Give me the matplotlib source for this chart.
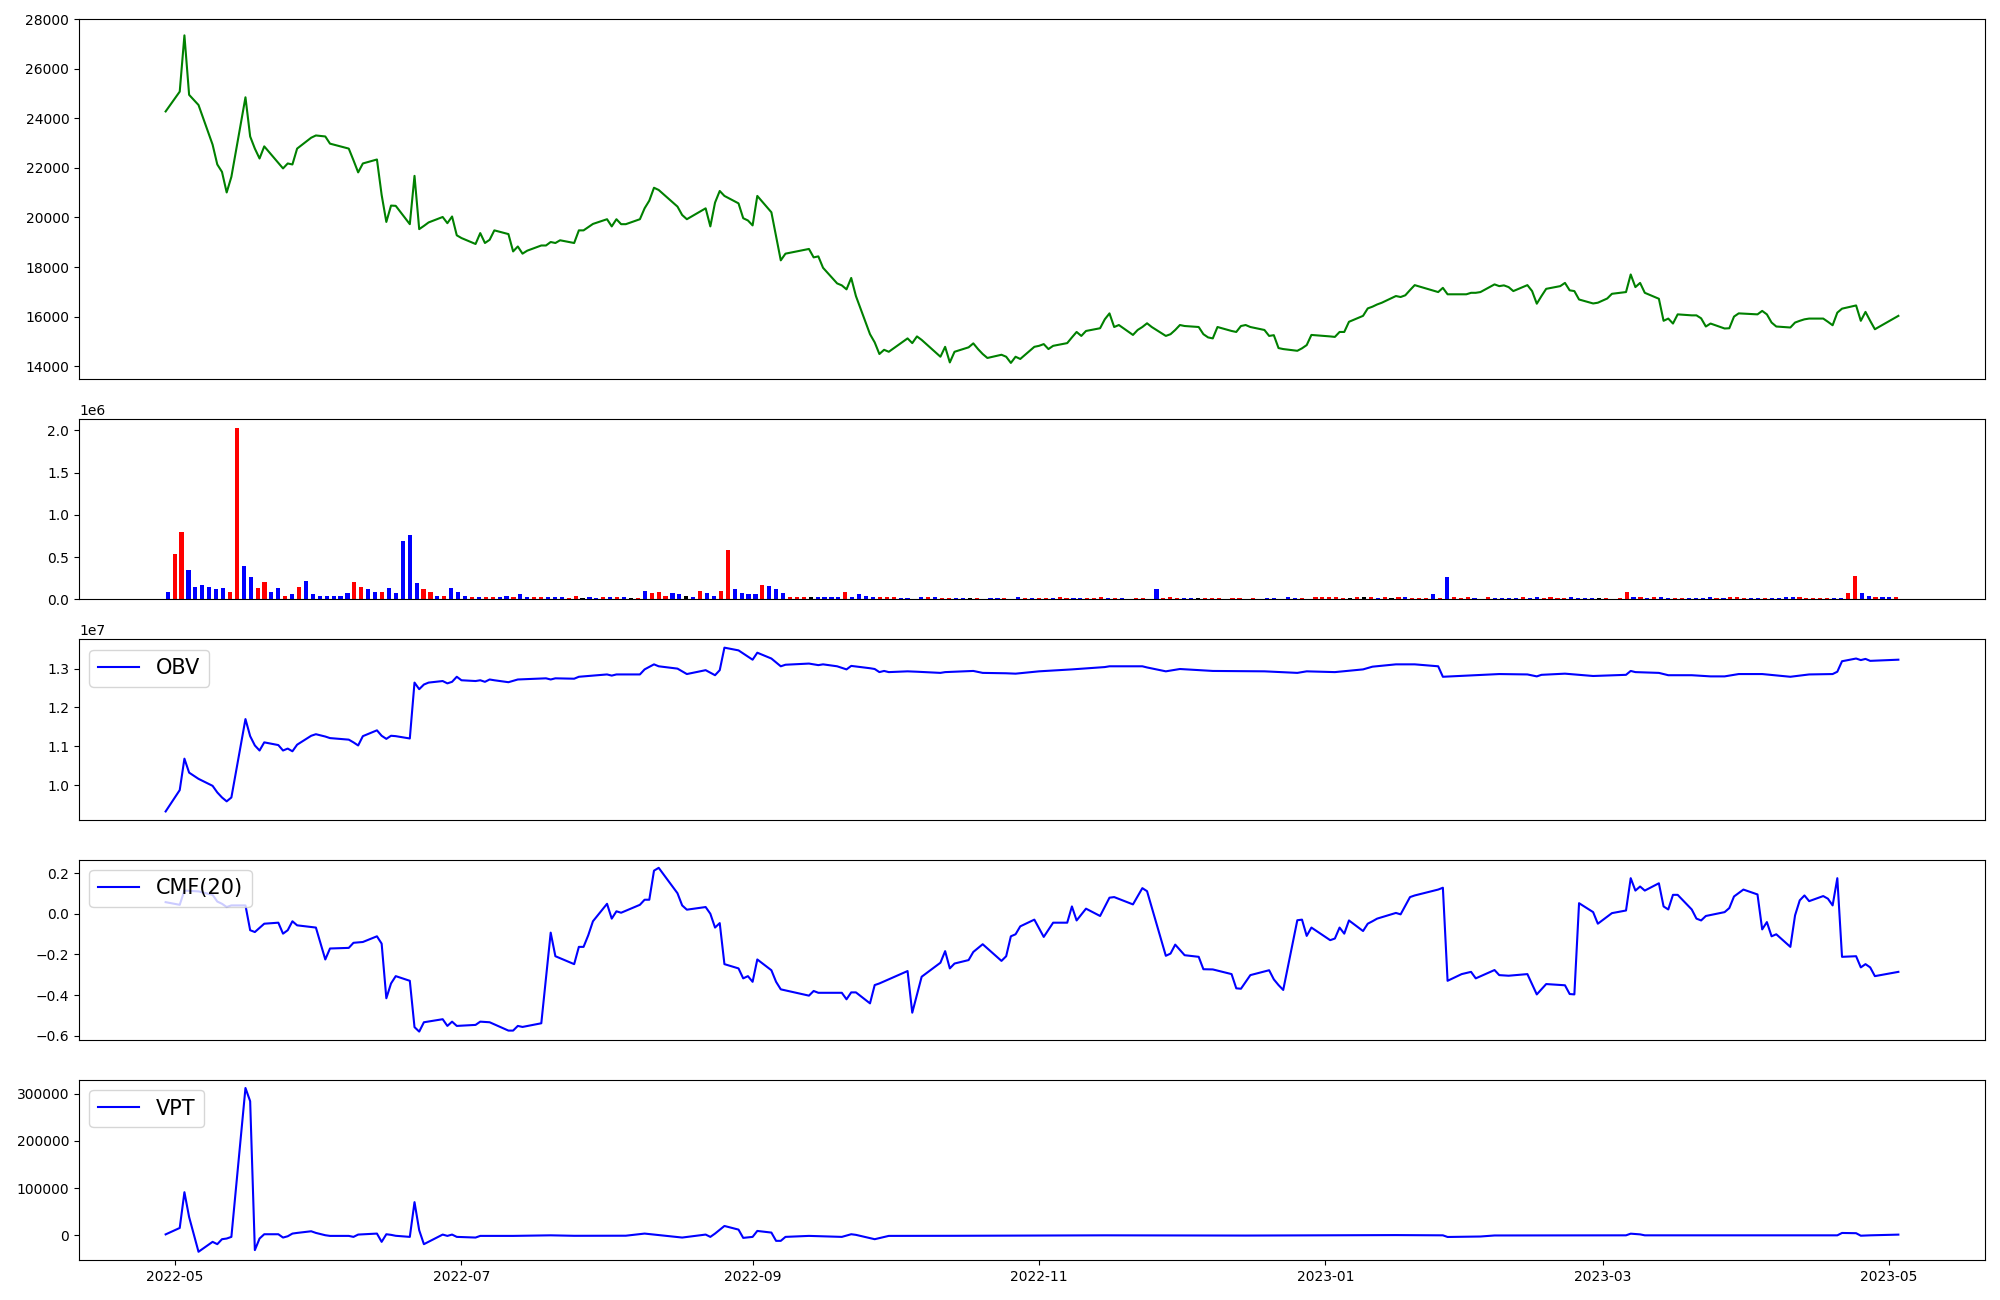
import numpy as np
import pandas as pd
import matplotlib
matplotlib.use("Agg")
import matplotlib.pyplot as plt
import matplotlib.dates as mdates

# ---------------- data ----------------
holidays = ["2022-05-05", "2022-06-01", "2022-06-06", "2022-08-15", "2022-09-09",
            "2022-09-12", "2022-10-03", "2022-10-10", "2022-12-30", "2023-01-23",
            "2023-01-24", "2023-03-01", "2023-05-01"]
trade_days = pd.bdate_range("2022-04-29", "2023-05-03")
trade_days = trade_days[~trade_days.isin(pd.to_datetime(holidays))]

close = [
    24280,
    25080, 27350, 24950, 24540, 22940, 22140, 21840, 21010, 21640, 24850, 23270,
    22780, 22380, 22870, 22200, 21980, 22180, 22140, 22780, 23220, 23310,
    23270, 22980, 22780, 22310, 21820, 22180, 22340, 20910, 19820, 20480,
    20470, 19730, 21680, 19530, 19660, 19800, 20020, 19770, 20040, 19280,
    19170, 18930, 19370, 18970, 19100, 19480, 19330, 18630, 18830, 18540, 18660,
    18870, 18870, 19010, 18970, 19080, 18970, 19480, 19480, 19610, 19740,
    19930, 19640, 19930, 19730, 19730, 19930, 20370, 20680, 21200, 21110, 20440,
    20100, 19930, 20040, 20370, 19640, 20600, 21070, 20870, 20570, 19970, 19880,
    19680, 20870, 20210, 19240, 18270, 18540, 18730, 18390, 18430, 17970, 17340,
    17260, 17100, 17560, 16830, 15290, 14960, 14490, 14660, 14580,
    15120, 14930, 15200, 15060, 14380, 14780, 14150, 14580, 14760, 14920, 14690,
    14490, 14330, 14460, 14380, 14130, 14380, 14290, 14780,
    14820, 14890, 14690, 14820, 14930, 15160, 15380, 15220, 15420, 15530, 15890,
    16130, 15580, 15660, 15260, 15460, 15580, 15730, 15580, 15220, 15290, 15460,
    15660, 15620, 15580, 15290, 15160, 15120, 15580, 15420, 15380, 15620, 15660,
    15580, 15460, 15220, 15250, 14730, 14690, 14620, 14720, 14850, 15260,
    15200, 15180, 15380, 15380, 15790, 16030, 16330, 16400, 16490, 16560, 16830,
    16790, 16860, 17070, 17270, 16990, 17160, 16900, 16900, 16900,
    16960, 16960, 16990, 17300, 17230, 17260, 17190, 17030, 17270, 17030, 16520,
    16830, 17120, 17230, 17360, 17060, 17030, 16690, 16530, 16560,
    16730, 16920, 16990, 17700, 17190, 17360, 16960, 16720, 15830, 15920, 15720,
    16090, 16050, 16050, 15930, 15600, 15720, 15520, 15530, 16000, 16130, 16120,
    16090, 16230, 16090, 15760, 15600, 15560, 15760, 15830, 15890, 15920, 15920,
    15790, 15650, 16160, 16320, 16450, 15830, 16190, 15830, 15490,
    15920, 16030,
]

volume_m = [
    0.094, 0.54, 0.80, 0.354, 0.153, 0.177, 0.153, 0.118, 0.141, 0.094,
    2.03, 0.40, 0.27, 0.13, 0.21, 0.083, 0.13, 0.047, 0.059, 0.153,
    0.224, 0.059, 0.047, 0.047, 0.047, 0.047, 0.071, 0.212, 0.153, 0.118,
    0.094, 0.083, 0.13, 0.071, 0.695, 0.766, 0.189, 0.118, 0.083, 0.047,
    0.047, 0.13, 0.083, 0.047, 0.024, 0.024, 0.024, 0.024, 0.024, 0.047,
    0.035, 0.059, 0.035, 0.024, 0.024, 0.024, 0.035, 0.024, 0.012, 0.047,
    0.012, 0.024, 0.012, 0.035, 0.024, 0.035, 0.024, 0.012, 0.012, 0.106,
    0.071, 0.083, 0.047, 0.071, 0.059, 0.047, 0.024, 0.106, 0.071, 0.047,
    0.106, 0.59, 0.118, 0.071, 0.059, 0.059, 0.177, 0.165, 0.118, 0.071,
    0.035, 0.035, 0.035, 0.024, 0.035, 0.035, 0.035, 0.024, 0.094, 0.035,
    0.059, 0.047, 0.035, 0.024, 0.024, 0.024, 0.012, 0.012, 0.004, 0.035,
    0.024, 0.024, 0.012, 0.012, 0.012, 0.012, 0.012, 0.012, 0.004, 0.012,
    0.012, 0.012, 0.004, 0.035, 0.012, 0.012, 0.012, 0.012, 0.012, 0.024,
    0.012, 0.012, 0.012, 0.012, 0.012, 0.035, 0.012, 0.012, 0.012, 0.004,
    0.012, 0.012, 0.004, 0.118, 0.012, 0.024, 0.012, 0.012, 0.012, 0.012,
    0.012, 0.012, 0.012, 0.004, 0.012, 0.012, 0.004, 0.012, 0.004, 0.012,
    0.012, 0.004, 0.024, 0.012, 0.012, 0.004, 0.024,
    0.024, 0.024, 0.024, 0.012, 0.012, 0.024, 0.024, 0.024, 0.012, 0.035,
    0.012, 0.035, 0.024, 0.012, 0.012, 0.012, 0.059, 0.012, 0.27, 0.035,
    0.012, 0.024, 0.012, 0.004, 0.024, 0.012, 0.012, 0.012, 0.012, 0.024,
    0.012, 0.024, 0.012, 0.024, 0.012, 0.012, 0.024, 0.012, 0.012, 0.012,
    0.012, 0.012, 0.004, 0.012, 0.083, 0.035, 0.024, 0.012, 0.024, 0.035,
    0.012, 0.012, 0.012, 0.012, 0.012, 0.012, 0.024, 0.012, 0.012, 0.024,
    0.024, 0.012, 0.012, 0.012, 0.012, 0.012, 0.012, 0.024, 0.024, 0.024,
    0.012, 0.012, 0.012, 0.012, 0.012, 0.012, 0.071, 0.283, 0.071, 0.047,
    0.035, 0.024, 0.024, 0.024,
]

volume_dir = ("brrbbbbbbr" "rbbrrbbrbr" "bbbbbbbrrb" "brbbbbbrrb" "rbbbrbrrbb"
              "rbbrrbbbrr" "kbbrbrbkrb" "rrrbbkbrbb" "rrbbbbrbbb" "rrrkbbbbrb"
              "bbbrrrbbbb" "rbrrbbkrbb" "brbbrbrrbr" "rbbrrrbrbb" "rrbbrrrbbk"
              "rrrbrrbrbb" "bbbbrbr"
              "rrrrkrkrbr" "krbrrrbrbr" "rrbbrbbbbr" "bbrrrrbbbb" "krbrrbrbrb"
              "brrbbbbrbr" "rrbbrbbbbr" "rrrrbbrrbb" "rbbr")

obv_dates = [
    "2022-04-29", "2022-05-02", "2022-05-03", "2022-05-04", "2022-05-06", "2022-05-09",
    "2022-05-10", "2022-05-11", "2022-05-12", "2022-05-13", "2022-05-16", "2022-05-17",
    "2022-05-18", "2022-05-19", "2022-05-20", "2022-05-23", "2022-05-24", "2022-05-25",
    "2022-05-26", "2022-05-27", "2022-05-30", "2022-05-31", "2022-06-02", "2022-06-03",
    "2022-06-07", "2022-06-08", "2022-06-09", "2022-06-10", "2022-06-13", "2022-06-14",
    "2022-06-15", "2022-06-16", "2022-06-17", "2022-06-20", "2022-06-21", "2022-06-22",
    "2022-06-23", "2022-06-24", "2022-06-27", "2022-06-28", "2022-06-29", "2022-06-30",
    "2022-07-01", "2022-07-04", "2022-07-05", "2022-07-06", "2022-07-07", "2022-07-08",
    "2022-07-11", "2022-07-13", "2022-07-19", "2022-07-20", "2022-07-21", "2022-07-25",
    "2022-07-26", "2022-07-28", "2022-08-01", "2022-08-02", "2022-08-03", "2022-08-08",
    "2022-08-09", "2022-08-11", "2022-08-12", "2022-08-16", "2022-08-18", "2022-08-22",
    "2022-08-24", "2022-08-25", "2022-08-26", "2022-08-29", "2022-09-01", "2022-09-02",
    "2022-09-05", "2022-09-07", "2022-09-08", "2022-09-13", "2022-09-15", "2022-09-16",
    "2022-09-19", "2022-09-21", "2022-09-22", "2022-09-26", "2022-09-27", "2022-09-28",
    "2022-09-29", "2022-09-30", "2022-10-04", "2022-10-06", "2022-10-11", "2022-10-12",
    "2022-10-18", "2022-10-20", "2022-10-25", "2022-10-27", "2022-11-01", "2022-11-08",
    "2022-11-15", "2022-11-16", "2022-11-23", "2022-11-24", "2022-11-28", "2022-12-01",
    "2022-12-08", "2022-12-19", "2022-12-26", "2022-12-28", "2023-01-03", "2023-01-09",
    "2023-01-11", "2023-01-16", "2023-01-20", "2023-01-25", "2023-01-26", "2023-01-31",
    "2023-02-07", "2023-02-13", "2023-02-15", "2023-02-16", "2023-02-21", "2023-02-27",
    "2023-03-06", "2023-03-07", "2023-03-08", "2023-03-13", "2023-03-15", "2023-03-20",
    "2023-03-24", "2023-03-27", "2023-03-30", "2023-04-04", "2023-04-10", "2023-04-14",
    "2023-04-19", "2023-04-20", "2023-04-21", "2023-04-24", "2023-04-25", "2023-04-26",
    "2023-04-27", "2023-05-03",
]
obv_m = [
    9.32, 9.87, 10.68, 10.32, 10.16, 9.98,
    9.81, 9.68, 9.58, 9.68, 11.70, 11.26,
    11.02, 10.89, 11.10, 11.03, 10.89, 10.94,
    10.87, 11.04, 11.27, 11.31, 11.25, 11.21,
    11.17, 11.10, 11.02, 11.26, 11.41, 11.27,
    11.19, 11.27, 11.26, 11.20, 12.64, 12.47,
    12.59, 12.64, 12.68, 12.62, 12.66, 12.79,
    12.70, 12.68, 12.70, 12.66, 12.72, 12.70,
    12.65, 12.72, 12.75, 12.72, 12.75, 12.74,
    12.79, 12.81, 12.85, 12.82, 12.85, 12.85,
    12.98, 13.11, 13.06, 13.00, 12.86, 12.96,
    12.83, 12.96, 13.54, 13.47, 13.23, 13.41,
    13.26, 13.06, 13.10, 13.13, 13.09, 13.11,
    13.06, 12.98, 13.07, 13.01, 12.99, 12.91,
    12.94, 12.91, 12.93, 12.92, 12.89, 12.91,
    12.94, 12.89, 12.88, 12.87, 12.93, 12.98,
    13.04, 13.06, 13.06, 13.03, 12.93, 12.99,
    12.94, 12.93, 12.89, 12.93, 12.91, 12.98,
    13.05, 13.11, 13.11, 13.06, 12.79, 12.82,
    12.86, 12.85, 12.80, 12.84, 12.87, 12.81,
    12.84, 12.94, 12.91, 12.89, 12.83, 12.83,
    12.80, 12.80, 12.86, 12.86, 12.79, 12.85,
    12.86, 12.92, 13.19, 13.26, 13.22, 13.25,
    13.20, 13.23,
]

cmf_dates = [
    "2022-04-29", "2022-05-02", "2022-05-03", "2022-05-06", "2022-05-09", "2022-05-10",
    "2022-05-11", "2022-05-12", "2022-05-13", "2022-05-16", "2022-05-17", "2022-05-18",
    "2022-05-20", "2022-05-23", "2022-05-24", "2022-05-25", "2022-05-26", "2022-05-27",
    "2022-05-31", "2022-06-02", "2022-06-03", "2022-06-07", "2022-06-08", "2022-06-10",
    "2022-06-13", "2022-06-14", "2022-06-15", "2022-06-16", "2022-06-17", "2022-06-20",
    "2022-06-21", "2022-06-22", "2022-06-23", "2022-06-27", "2022-06-28", "2022-06-29",
    "2022-06-30", "2022-07-04", "2022-07-05", "2022-07-07", "2022-07-11", "2022-07-12",
    "2022-07-13", "2022-07-14", "2022-07-18", "2022-07-20", "2022-07-21", "2022-07-25",
    "2022-07-26", "2022-07-27", "2022-07-28", "2022-07-29", "2022-08-01", "2022-08-02",
    "2022-08-03", "2022-08-04", "2022-08-08", "2022-08-09", "2022-08-10", "2022-08-11",
    "2022-08-12", "2022-08-16", "2022-08-17", "2022-08-18", "2022-08-22", "2022-08-23",
    "2022-08-24", "2022-08-25", "2022-08-26", "2022-08-29", "2022-08-30", "2022-08-31",
    "2022-09-01", "2022-09-02", "2022-09-05", "2022-09-06", "2022-09-07", "2022-09-13",
    "2022-09-14", "2022-09-15", "2022-09-20", "2022-09-21", "2022-09-22", "2022-09-23",
    "2022-09-26", "2022-09-27", "2022-09-28", "2022-10-04", "2022-10-05", "2022-10-07",
    "2022-10-11", "2022-10-12", "2022-10-13", "2022-10-14", "2022-10-17", "2022-10-18",
    "2022-10-20", "2022-10-24", "2022-10-25", "2022-10-26", "2022-10-27", "2022-10-28",
    "2022-10-31", "2022-11-02", "2022-11-04", "2022-11-07", "2022-11-08", "2022-11-09",
    "2022-11-11", "2022-11-14", "2022-11-16", "2022-11-17", "2022-11-21", "2022-11-23",
    "2022-11-24", "2022-11-28", "2022-11-29", "2022-11-30", "2022-12-02", "2022-12-05",
    "2022-12-06", "2022-12-08", "2022-12-12", "2022-12-13", "2022-12-14", "2022-12-16",
    "2022-12-20", "2022-12-21", "2022-12-22", "2022-12-23", "2022-12-26", "2022-12-27",
    "2022-12-28", "2022-12-29", "2023-01-02", "2023-01-03", "2023-01-04", "2023-01-05",
    "2023-01-06", "2023-01-09", "2023-01-10", "2023-01-11", "2023-01-12", "2023-01-16",
    "2023-01-17", "2023-01-19", "2023-01-20", "2023-01-25", "2023-01-26", "2023-01-27",
    "2023-01-30", "2023-02-01", "2023-02-02", "2023-02-06", "2023-02-07", "2023-02-09",
    "2023-02-13", "2023-02-15", "2023-02-17", "2023-02-21", "2023-02-22", "2023-02-23",
    "2023-02-24", "2023-02-27", "2023-02-28", "2023-03-03", "2023-03-06", "2023-03-07",
    "2023-03-08", "2023-03-09", "2023-03-10", "2023-03-13", "2023-03-14", "2023-03-15",
    "2023-03-16", "2023-03-17", "2023-03-20", "2023-03-21", "2023-03-22", "2023-03-23",
    "2023-03-27", "2023-03-28", "2023-03-29", "2023-03-31", "2023-04-03", "2023-04-04",
    "2023-04-05", "2023-04-06", "2023-04-07", "2023-04-10", "2023-04-11", "2023-04-12",
    "2023-04-13", "2023-04-14", "2023-04-17", "2023-04-18", "2023-04-19", "2023-04-20",
    "2023-04-21", "2023-04-24", "2023-04-25", "2023-04-26", "2023-04-27", "2023-04-28",
    "2023-05-03",
]
cmf_vals = [
    0.057, 0.044, 0.114, 0.110, 0.093, 0.060,
    0.049, 0.033, 0.041, 0.041, -0.081, -0.090,
    -0.049, -0.044, -0.098, -0.081, -0.037, -0.057,
    -0.068, -0.225, -0.171, -0.168, -0.143, -0.139,
    -0.111, -0.147, -0.416, -0.343, -0.307, -0.330,
    -0.558, -0.580, -0.534, -0.519, -0.552, -0.531,
    -0.552, -0.547, -0.531, -0.534, -0.575, -0.575,
    -0.552, -0.557, -0.539, -0.093, -0.209, -0.248,
    -0.163, -0.163, -0.106, -0.037, 0.049, -0.024,
    0.012, 0.005, 0.044, 0.069, 0.069, 0.212,
    0.226, 0.101, 0.041, 0.020, 0.033, 0.000,
    -0.068, -0.046, -0.248, -0.269, -0.318, -0.307,
    -0.335, -0.225, -0.278, -0.335, -0.372, -0.403,
    -0.380, -0.389, -0.389, -0.421, -0.387, -0.387,
    -0.441, -0.351, -0.343, -0.282, -0.487, -0.310,
    -0.241, -0.184, -0.269, -0.245, -0.228, -0.188,
    -0.150, -0.232, -0.209, -0.111, -0.101, -0.062,
    -0.029, -0.114, -0.044, -0.044, 0.036, -0.033,
    0.025, -0.011, 0.079, 0.082, 0.046, 0.126,
    0.111, -0.207, -0.196, -0.152, -0.204, -0.212,
    -0.273, -0.274, -0.297, -0.367, -0.369, -0.302,
    -0.278, -0.323, -0.351, -0.375, -0.032, -0.029,
    -0.109, -0.068, -0.130, -0.122, -0.068, -0.098,
    -0.033, -0.085, -0.049, -0.037, -0.024, 0.004,
    -0.003, 0.082, 0.090, 0.119, 0.128, -0.330,
    -0.297, -0.286, -0.318, -0.277, -0.302, -0.305,
    -0.297, -0.397, -0.346, -0.352, -0.395, -0.397,
    0.052, 0.008, -0.049, 0.003, 0.016, 0.175,
    0.114, 0.134, 0.114, 0.150, 0.036, 0.021,
    0.093, 0.093, 0.021, -0.024, -0.033, -0.011,
    0.008, 0.028, 0.085, 0.119, 0.095, -0.077,
    -0.041, -0.111, -0.101, -0.163, -0.008, 0.066,
    0.090, 0.062, 0.087, 0.074, 0.041, 0.175,
    -0.212, -0.209, -0.264, -0.248, -0.264, -0.307,
    -0.286,
]

vpt_dates = [
    "2022-04-29", "2022-05-02", "2022-05-03", "2022-05-04", "2022-05-06", "2022-05-09",
    "2022-05-10", "2022-05-11", "2022-05-12", "2022-05-13", "2022-05-16", "2022-05-17",
    "2022-05-18", "2022-05-19", "2022-05-20", "2022-05-23", "2022-05-24", "2022-05-25",
    "2022-05-26", "2022-05-27", "2022-05-30", "2022-05-31", "2022-06-02", "2022-06-03",
    "2022-06-07", "2022-06-08", "2022-06-09", "2022-06-13", "2022-06-14", "2022-06-15",
    "2022-06-16", "2022-06-17", "2022-06-20", "2022-06-21", "2022-06-22", "2022-06-23",
    "2022-06-27", "2022-06-28", "2022-06-29", "2022-06-30", "2022-07-04", "2022-07-05",
    "2022-07-12", "2022-07-20", "2022-07-25", "2022-08-05", "2022-08-09", "2022-08-11",
    "2022-08-17", "2022-08-22", "2022-08-23", "2022-08-24", "2022-08-26", "2022-08-29",
    "2022-08-30", "2022-09-01", "2022-09-02", "2022-09-05", "2022-09-06", "2022-09-07",
    "2022-09-08", "2022-09-13", "2022-09-20", "2022-09-22", "2022-09-23", "2022-09-27",
    "2022-09-30", "2022-10-14", "2022-11-15", "2022-12-15", "2023-01-16", "2023-01-26",
    "2023-01-27", "2023-02-03", "2023-02-06", "2023-03-06", "2023-03-07", "2023-03-09",
    "2023-03-10", "2023-04-20", "2023-04-21", "2023-04-24", "2023-04-25", "2023-04-27",
    "2023-05-03",
]
vpt_vals = [
    2000, 15600, 91250, 38700, -34800, -13800,
    -18700, -8200, -6800, -3300, 311800, 283800,
    -31300, -6800, 2300, 2300, -4700, -2000,
    3700, 5100, 8600, 5100, 200, -1200,
    -1200, -3300, 1600, 3700, -13800, 2300,
    1000, -1000, -3300, 70200, 10700, -18700,
    1600, -1200, 1600, -3300, -4700, -1200,
    -1200, 0, -1000, -800, 3700, 1600,
    -4700, 1600, -3300, 3700, 19800, 12100,
    -5400, -3300, 9300, 5800, -11700, -11700,
    -3300, -1200, -3300, 2300, 1000, -8200,
    -1200, -1000, 0, -500, 500, 0,
    -3500, -2500, -300, 0, 3500, 2000,
    0, 0, 5000, 4500, -800, 0,
    1500,
]

# ---------------- figure ----------------
fig = plt.figure(figsize=(20, 13), dpi=100)
gs = fig.add_gridspec(5, 1, height_ratios=[2, 1, 1, 1, 1], left=0.0395, right=0.9925,
                      top=0.9854, bottom=0.0308, hspace=0.185)
ax_p = fig.add_subplot(gs[0])
ax_v = fig.add_subplot(gs[1])
ax_o = fig.add_subplot(gs[2], sharex=ax_p)
ax_c = fig.add_subplot(gs[3], sharex=ax_p)
ax_t = fig.add_subplot(gs[4], sharex=ax_p)

ax_p.plot(trade_days, close, color="green", linewidth=1.5)

dir_colors = {"r": "red", "b": "blue", "k": "black"}
ax_v.bar(np.arange(len(volume_m)), np.array(volume_m) * 1e6, width=0.6,
         color=[dir_colors[c] for c in volume_dir])
ax_v.set_xticks([])

ax_o.plot(pd.to_datetime(obv_dates), np.array(obv_m) * 1e6, color="blue", label="OBV")
ax_c.plot(pd.to_datetime(cmf_dates), cmf_vals, color="blue", label="CMF(20)")
ax_t.plot(pd.to_datetime(vpt_dates), vpt_vals, color="blue", label="VPT")
for ax in (ax_o, ax_c, ax_t):
    ax.legend(loc="upper left", fontsize=15)

for ax in (ax_p, ax_o, ax_c):
    ax.tick_params(axis="x", bottom=False, labelbottom=False)

ax_t.xaxis.set_major_locator(mdates.MonthLocator(bymonth=[1, 3, 5, 7, 9, 11]))
ax_t.xaxis.set_major_formatter(mdates.DateFormatter("%Y-%m"))

fig.savefig("out.png", dpi=100)
